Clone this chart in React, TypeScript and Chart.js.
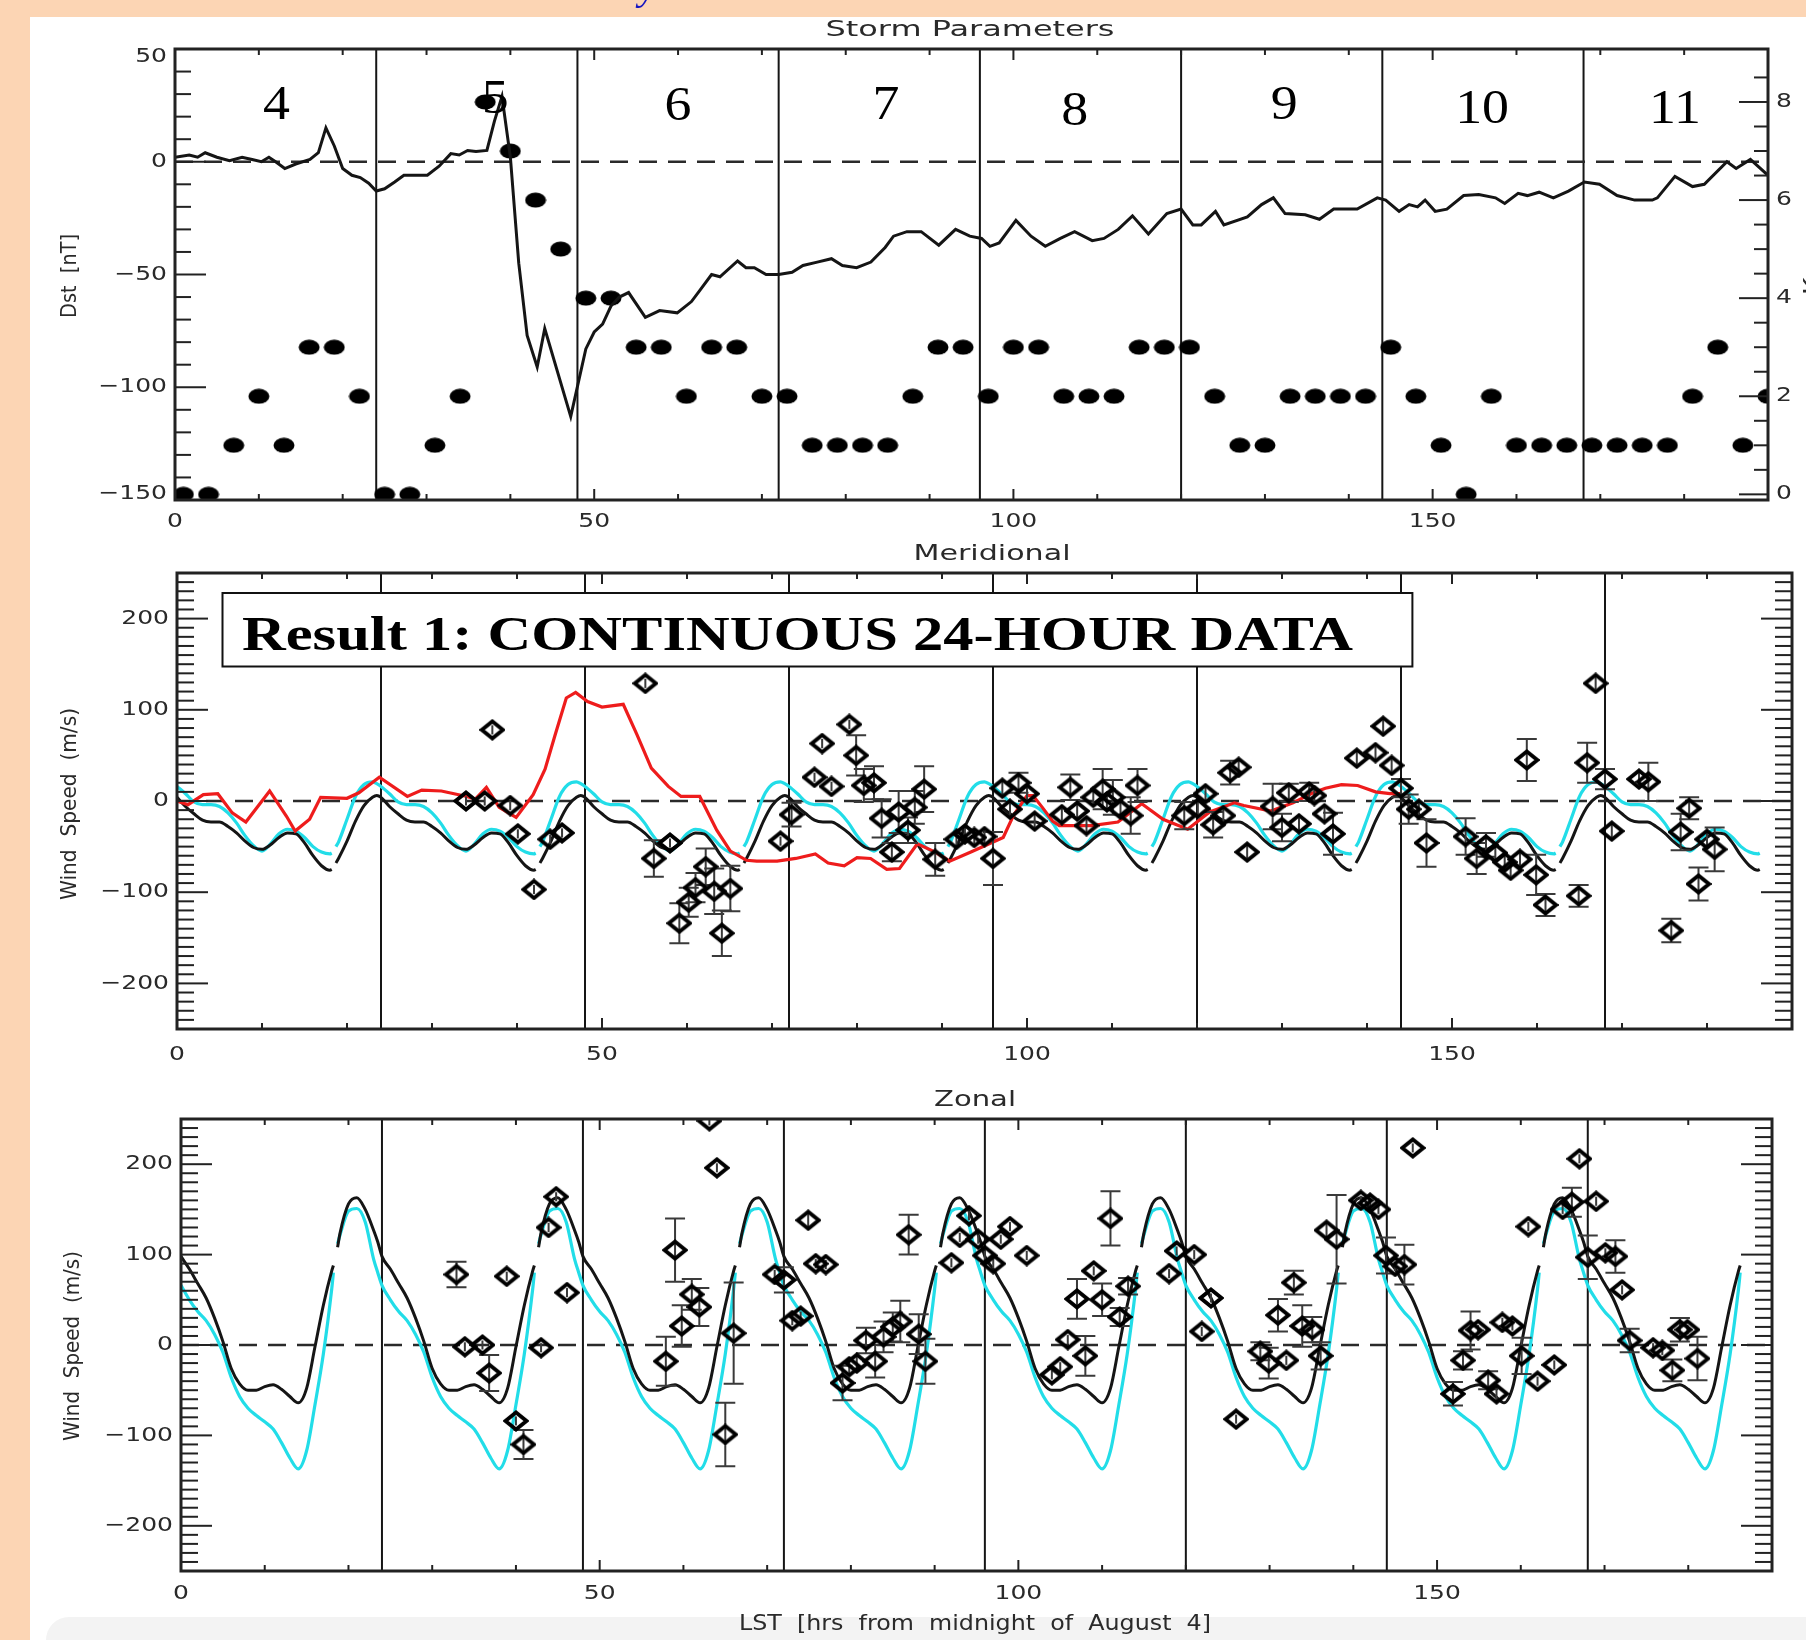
import React, { useEffect, useRef } from "react";
import { Chart, registerables } from "chart.js";

Chart.register(...registerables);

// ======================= DATA =======================
const xAxisRange = [0, 190];
const dayBoundaryHours = [24, 48, 72, 96, 120, 144, 168];
const xMajorTickHours = [0, 50, 100, 150];
const xMajorTickLabels = ["0", "50", "100", "150"];
const xMinorTickHours = [10, 20, 30, 40, 60, 70, 80, 90, 110, 120, 130, 140, 160, 170, 180];

// day-of-August annotations in the storm panel
const dayNumbers = ["4", "5", "6", "7", "8", "9", "10", "11"];
const dayNumberHour = [12.1, 38.2, 60.0, 84.8, 107.3, 132.3, 155.9, 178.9];
const dayNumberDst = [19.0, 21.4, 18.7, 19.0, 16.3, 19.1, 17.4, 17.4];

const dstRange = [-150, 50];
const dstMajorTicks = [50, 0, -50, -100, -150];
const dstMajorLabels = ["50", "0", "\u221250", "\u2212100", "\u2212150"];
const dstMinorTicks = [40, 30, 20, 10, -10, -20, -30, -40, -60, -70, -80, -90, -110, -120, -130, -140];
const kpRange = [-0.115, 9.08];
const kpMajorTicks = [0, 2, 4, 6, 8];
const kpMajorLabels = ["0", "2", "4", "6", "8"];
const kpMinorTicks = [0.5, 1, 1.5, 2.5, 3, 3.5, 4.5, 5, 5.5, 6.5, 7, 7.5, 8.5];
const windRange = [-250, 250];
const windMajorTicks = [200, 100, 0, -100, -200];
const windMajorLabels = ["200", "100", "0", "\u2212100", "\u2212200"];

// Dst index [nT]: [hour, value]
const dstSeries: [number, number][] = [
  [0, 2], [1.7, 3], [2.7, 2], [3.6, 4], [5, 2], [6.5, 0.5], [8, 2], [9.2, 1], [10.3, 0], [11.2, 2],
  [12, 0], [13.1, -3], [14.4, -1], [16.1, 1], [17.1, 4], [18.0, 15], [19.0, 7], [20.0, -3], [21.1, -6],
  [22.1, -7], [23.1, -9.5], [24.0, -13], [25, -12], [26.2, -9], [27.3, -6], [28.5, -6], [30.1, -6],
  [31.5, -2], [32.9, 3.6], [33.9, 3], [34.9, 5], [35.9, 4.5], [37.2, 5], [38.1, 18], [39.0, 29],
  [40.0, 2], [41.0, -45], [42.0, -77], [43.2, -91], [44.1, -74], [47.2, -113], [49.0, -83], [50.0, -75.5],
  [51.0, -72], [52.0, -64], [53.0, -60], [54.1, -58], [56.1, -69], [57.8, -66], [59.9, -67], [61.6, -62],
  [62.6, -57], [64.0, -50], [65.0, -51], [67.1, -44], [68.1, -47], [69.1, -47], [70.5, -50], [72, -50],
  [73.6, -49], [74.9, -46], [76.6, -44.5], [78.3, -43], [79.6, -46], [81.3, -47], [83, -44.5], [84.7, -38],
  [85.7, -33], [87.3, -31], [89, -31], [91.1, -37], [93.1, -30], [94.8, -33], [96.2, -34], [97.2, -37.5],
  [98.3, -36], [100.3, -26], [102.1, -33], [103.8, -37.5], [105.6, -34], [107.3, -31], [109.4, -35],
  [110.8, -34], [112.5, -30], [114.2, -24], [116.1, -32], [118.3, -23], [120, -21], [121.4, -28],
  [122.4, -28], [124.1, -22], [125.1, -28], [127.9, -24.5], [129.6, -19], [131, -16], [132.4, -23],
  [134.8, -23.5], [136.5, -25.5], [138.2, -21], [141, -21], [143.4, -16], [144.4, -17], [146, -22],
  [147.2, -19], [148.2, -20], [149.1, -17], [150.3, -22], [151.7, -21], [153.7, -15], [155.5, -14.5],
  [157.5, -16], [158.6, -18.5], [160.2, -14], [161.3, -15], [162.7, -13.5], [164.4, -16], [166.2, -13],
  [168.1, -9], [169.9, -10], [172, -15], [174.1, -17], [176.2, -17], [176.8, -16], [178.9, -6.5],
  [181, -11], [182.4, -10], [185.1, 0], [186.2, -3], [187.9, 1], [190, -6],
];

// Kp index (3-hourly)
const kpHours = [1, 4, 7, 10, 13, 16, 19, 22, 25, 28, 31, 34, 37, 40, 43, 46, 49, 52, 55, 58, 61, 64, 67, 70,
  73, 76, 79, 82, 85, 88, 91, 94, 97, 100, 103, 106, 109, 112, 115, 118, 121, 124, 127, 130, 133, 136, 139,
  142, 145, 148, 151, 154, 157, 160, 163, 166, 169, 172, 175, 178, 181, 184, 187, 190];
const kpValues = [0, 0, 1, 2, 1, 3, 3, 2, 0, 0, 1, 2, 8, 7, 6, 5, 4, 4, 3, 3, 2, 3, 3, 2,
  2, 1, 1, 1, 1, 2, 3, 3, 2, 3, 3, 2, 2, 2, 3, 3, 3, 2, 1, 1, 2, 2, 2,
  2, 3, 2, 1, 0, 2, 1, 1, 1, 1, 1, 1, 1, 2, 3, 1, 2];

// Daily model wind profiles (same every day), by local hour; the curve breaks after MODEL_BREAK_HOUR
const modelHours = [0, 1, 2, 3, 4, 5, 6, 7, 8, 9, 10, 11, 12, 13, 14, 15, 16, 17, 18, 18.2, 18.7, 19, 20, 21, 22, 23, 23.5];
const MODEL_BREAK_HOUR = 18.2;
const meridModelBlack = [4, -6, -14, -21, -23, -23, -28, -35, -44, -51, -53, -48, -40, -35, -36, -46, -60, -71, -76, -75, -68, -63, -44, -22, -5, 4, 6];
const meridModelCyan = [16, 8, -1, -4, -4, -6, -13, -24, -38, -49, -55, -47, -36, -31, -33, -40, -50, -56, -58, -57, -50, -45, -20, 5, 18, 21, 19];
const zonalModelBlack = [98, 84, 68, 52, 30, 4, -26, -43, -50, -50, -46, -44, -49, -57, -64, -48, -2, 44, 82, 88, 108, 124, 156, 163, 150, 127, 114];
const zonalModelCyan = [66, 50, 37, 27, 12, -8, -36, -57, -70, -78, -85, -93, -108, -125, -137, -117, -66, -10, 62, 80, 112, 122, 148, 151, 136, 95, 80];

// red meridional curve: [hour, m/s]
const redSeries: [number, number][] = [
  [0, 0], [1.3, -4], [3.1, 7], [4.8, 8], [6.5, -13], [8.1, -23], [10.9, 11], [12.9, -17], [13.9, -33],
  [15.6, -20], [16.9, 4], [20.0, 3], [21.4, 9], [23.8, 26], [27.1, 5], [28.8, 12], [31.1, 11], [34.1, 5],
  [35.1, 2], [36.4, 15], [37.9, -7], [39.9, -18], [41.9, 7], [43.3, 35], [44.5, 73], [45.8, 113],
  [46.9, 119], [48.3, 109], [50.0, 103], [52.5, 106], [54.1, 73], [55.8, 36], [57.8, 16], [59.3, 5],
  [61.5, 5], [63.5, -32], [65.1, -55], [67.0, -65], [68.2, -66], [70.6, -66], [72.8, -63], [75.1, -58],
  [76.6, -68], [78.5, -71], [80.0, -62], [81.6, -63], [83.5, -75], [85.0, -74], [87.1, -47], [89.2, -56],
  [90.9, -66], [93.4, -56], [97.2, -40], [98.4, -16], [100.0, 6], [100.7, 6], [101.8, -7], [103.0, -22],
  [103.8, -27], [107.6, -27], [110.7, -23], [113.5, -3], [116.0, -20], [118.9, -31], [121.5, -12],
  [124.4, -2], [125.5, -5], [128.7, -11], [131.3, -2], [133.4, 8], [135.1, 14], [137.0, 18], [138.9, 17],
  [141.0, 10], [142.7, 8], [143.9, 8],
];

// observed meridional wind: [hour, m/s, error]
const meridionalObs: [number, number, number][] = [
  [34.0, 0, 5], [36.2, 0, 5], [37.1, 78, 5], [39.2, -5, 5], [40.1, -36, 5], [42.0, -97, 5], [43.9, -42, 5],
  [45.3, -35, 5], [55.1, 129, 5], [56.1, -63, 20], [58.0, -46, 5], [59.1, -134, 22], [60.2, -111, 16],
  [61.0, -95, 16], [62.2, -72, 20], [63.2, -99, 25], [64.1, -145, 25], [65.1, -96, 25], [71.0, -44, 5],
  [72.3, -15, 13], [75.0, 26, 5], [75.9, 63, 5], [77.0, 16, 5], [79.1, 84, 5], [79.9, 50, 22], [80.8, 17, 18],
  [82.0, 20, 18], [82.9, -19, 21], [84.1, -56, 10], [84.9, -12, 23], [86.0, -32, 14], [86.8, -7, 18],
  [87.9, 13, 25], [89.2, -64, 18], [91.7, -42, 7], [92.7, -36, 7], [93.8, -40, 7], [95.0, -39, 7],
  [96.0, -63, 29], [97.1, 14, 7], [98.0, -9, 7], [99.0, 20, 11], [100.0, 8, 7], [100.9, -22, 7],
  [104.1, -15, 7], [105.1, 15, 14], [105.9, -11, 7], [107.0, -27, 7], [107.8, 4, 7], [108.9, 13, 22],
  [109.4, -1, 7], [110.1, 4, 19], [111.0, -9, 7], [112.2, -16, 20], [113.0, 17, 18], [118.5, -16, 15],
  [120.1, -8, 7], [121.0, 8, 7], [121.9, -26, 14], [123.1, -16, 7], [123.9, 31, 13], [124.9, 37, 7],
  [125.9, -56, 7], [128.9, -6, 25], [130.0, -29, 15], [130.8, 9, 10], [132.0, -25, 7], [133.2, 10, 10],
  [133.8, 6, 7], [135.0, -14, 7], [136.0, -36, 23], [138.8, 47, 7], [141.0, 53, 7], [141.9, 82, 7],
  [142.9, 39, 7], [144.0, 14, 10], [144.9, -9, 16], [146.1, -9, 7], [147.0, -46, 26], [151.6, -39, 20],
  [152.9, -63, 17], [154.0, -48, 13], [155.1, -57, 7], [156.2, -67, 7], [156.9, -76, 7], [158.0, -64, 7],
  [158.8, 45, 23], [159.9, -81, 22], [161.0, -114, 12], [164.9, -104, 12], [165.9, 42, 22], [166.9, 129, 7],
  [168.0, 24, 11], [168.8, -33, 7], [172.0, 24, 7], [173.1, 21, 21], [175.8, -142, 13], [176.9, -34, 20],
  [177.9, -8, 12], [179.0, -91, 18], [180.0, -42, 7], [180.9, -53, 24],
];

// observed zonal wind: [hour, m/s, error]
const zonalObs: [number, number, number][] = [
  [32.9, 78, 14], [33.9, -2, 5], [36.0, 0, 5], [36.8, -31, 20], [38.9, 76, 5], [40.0, -84, 5],
  [40.9, -110, 16], [43.0, -3, 5], [43.9, 130, 5], [44.8, 164, 5], [46.1, 58, 5], [57.9, -18, 27],
  [59.0, 105, 35], [59.8, 21, 23], [61.0, 56, 17], [61.9, 42, 21], [63.1, 248, 5], [64.0, 196, 5],
  [65.0, -99, 35], [66.0, 13, 56], [70.9, 78, 5], [72.0, 72, 14], [73.0, 27, 5], [74.0, 32, 5],
  [74.9, 138, 8], [75.8, 90, 5], [77.0, 89, 5], [79.0, -42, 19], [79.8, -24, 7], [80.7, -20, 7],
  [81.8, 5, 14], [82.9, -18, 18], [83.9, 9, 17], [85.0, 20, 16], [85.9, 26, 23], [86.9, 122, 22],
  [88.1, 12, 22], [88.9, -18, 25], [92.0, 91, 5], [93.0, 119, 5], [94.1, 143, 5], [95.2, 117, 5],
  [96.0, 99, 5], [97.0, 90, 5], [97.9, 117, 5], [99.0, 131, 5], [101.0, 99, 5], [104.0, -33, 5],
  [105.0, -24, 5], [105.9, 6, 5], [107.0, 51, 22], [108.0, -12, 22], [109.0, 82, 5], [110.0, 50, 18],
  [111.0, 140, 30], [112.1, 31, 10], [113.1, 65, 9], [118.0, 79, 5], [118.9, 104, 5], [121.0, 100, 5],
  [121.9, 15, 5], [123.0, 52, 5], [126.0, -82, 5], [128.9, -7, 10], [129.9, -20, 17], [131.0, 33, 18],
  [132.0, -17, 5], [132.9, 69, 13], [133.9, 21, 23], [135.1, 17, 14], [136.1, -12, 15], [136.8, 127, 8],
  [138.0, 117, 49], [140.9, 160, 5], [142.0, 157, 5], [143.0, 150, 5], [143.9, 99, 20], [145.0, 87, 5],
  [146.1, 89, 22], [147.1, 218, 5], [151.9, -54, 13], [153.1, -17, 10], [154.0, 16, 21], [154.9, 17, 5],
  [156.1, -39, 10], [157.1, -54, 8], [157.8, 25, 5], [159.0, 21, 5], [160.1, -12, 20], [160.9, 131, 5],
  [162.0, -40, 5], [164.0, -22, 5], [165.0, 150, 5], [166.1, 158, 16], [167.0, 206, 5], [168.0, 97, 24],
  [169.0, 159, 5], [170.1, 102, 5], [171.3, 98, 18], [172.1, 61, 5], [173.0, 5, 13], [175.8, -3, 5],
  [176.9, -6, 5], [178.1, -28, 12], [179.0, 17, 13], [179.9, 17, 5], [181.1, -15, 24],
];

// ======================= STYLE / LAYOUT =======================
const PAGE_W = 1806;
const PAGE_H = 1640;
const PEACH = "#FCD5B4";
const INK = "#151515";
const FRAME = "#222222";
const CYAN = "#22DDE8";
const RED = "#EE1C1C";
const TICK_FONT = '20px "DejaVu Sans"';
const TICK_SX = 1.25;
const TEXT_COLOR = "#2a2a2a";
const TITLE_FONT = '22px "DejaVu Sans"';

type Area = { left: number; right: number; top: number; bottom: number };
const topPanel = { top: 0, height: 540, area: { left: 175, right: 1768, top: 49, bottom: 500 } };
const midPanel = { top: 540, height: 540, area: { left: 177, right: 1792, top: 573, bottom: 1029 } };
const botPanel = { top: 1080, height: 560, area: { left: 181, right: 1772, top: 1119, bottom: 1571 } };

function paddingFor(p: { top: number; height: number; area: Area }) {
  return {
    left: p.area.left,
    right: PAGE_W - p.area.right,
    top: p.area.top - p.top,
    bottom: p.top + p.height - p.area.bottom,
  };
}

type TextSpec = {
  s: string; x: number; y: number; font: string; width?: number; sx?: number; rotate?: number;
  align?: CanvasTextAlign; baseline?: CanvasTextBaseline; color?: string;
};

function drawText(ctx: CanvasRenderingContext2D, t: TextSpec, offY: number) {
  ctx.save();
  ctx.font = t.font;
  ctx.fillStyle = t.color || TEXT_COLOR;
  ctx.textAlign = t.align || "center";
  ctx.textBaseline = t.baseline || "middle";
  ctx.translate(t.x, t.y - offY);
  if (t.rotate) ctx.rotate(t.rotate);
  let sx = t.sx || 1;
  if (t.width) sx = t.width / ctx.measureText(t.s).width;
  ctx.scale(sx, 1);
  ctx.fillText(t.s, 0, 0);
  ctx.restore();
}

type YAxisSpec = {
  id: string; side: "left" | "right"; majors: number[]; minors: number[]; labels: string[] | null;
  majorLen: number; minorLen: number;
};

type PanelSpec = {
  offY: number; xLabelGap: number; yAxes: YAxisSpec[]; texts: TextSpec[];
  banner?: boolean; dayNums?: boolean;
};

function panelPlugin(spec: PanelSpec) {
  return {
    id: "panelDecor",
    beforeDatasetsDraw(chart: any) {
      const { ctx, chartArea: a, scales } = chart;
      ctx.save();
      ctx.strokeStyle = INK;
      ctx.lineWidth = 2;
      dayBoundaryHours.forEach((h) => {
        const x = scales.x.getPixelForValue(h);
        ctx.beginPath();
        ctx.moveTo(x, a.top);
        ctx.lineTo(x, a.bottom);
        ctx.stroke();
      });
      ctx.restore();
    },
    beforeDatasetDraw(chart: any, args: any) {
      const ds = chart.data.datasets[args.index];
      if (!ds.errorBars) return;
      const { ctx, chartArea: a, scales } = chart;
      const ys = scales[ds.yAxisID];
      ctx.save();
      ctx.beginPath();
      ctx.rect(a.left, a.top, a.right - a.left, a.bottom - a.top);
      ctx.clip();
      ctx.strokeStyle = "#3a3a3a";
      ctx.lineWidth = 2;
      ds.errorBars.forEach((p: [number, number, number]) => {
        const x = scales.x.getPixelForValue(p[0]);
        const y1 = ys.getPixelForValue(p[1] - p[2]);
        const y2 = ys.getPixelForValue(p[1] + p[2]);
        ctx.beginPath();
        ctx.moveTo(x, y1);
        ctx.lineTo(x, y2);
        if (p[2] >= 9) {
          ctx.moveTo(x - 10, y1);
          ctx.lineTo(x + 10, y1);
          ctx.moveTo(x - 10, y2);
          ctx.lineTo(x + 10, y2);
        }
        ctx.stroke();
      });
      ctx.restore();
    },
    afterDraw(chart: any) {
      const { ctx, chartArea: a, scales } = chart;
      ctx.save();
      ctx.strokeStyle = FRAME;
      ctx.lineWidth = 2;
      const seg = (x1: number, y1: number, x2: number, y2: number) => {
        ctx.beginPath();
        ctx.moveTo(x1, y1);
        ctx.lineTo(x2, y2);
        ctx.stroke();
      };
      xMajorTickHours.forEach((h) => {
        const x = scales.x.getPixelForValue(h);
        seg(x, a.bottom, x, a.bottom - 11);
        seg(x, a.top, x, a.top + 11);
      });
      xMinorTickHours.forEach((h) => {
        const x = scales.x.getPixelForValue(h);
        seg(x, a.bottom, x, a.bottom - 6);
        seg(x, a.top, x, a.top + 6);
      });
      spec.yAxes.forEach((ax) => {
        const s = scales[ax.id];
        const x0 = ax.side === "left" ? a.left : a.right;
        const dir = ax.side === "left" ? 1 : -1;
        ax.majors.forEach((v) => {
          const y = s.getPixelForValue(v);
          seg(x0, y, x0 + dir * ax.majorLen, y);
        });
        ax.minors.forEach((v) => {
          const y = s.getPixelForValue(v);
          seg(x0, y, x0 + dir * ax.minorLen, y);
        });
        if (ax.labels) {
          ax.majors.forEach((v, i) => {
            let y = s.getPixelForValue(v);
            y = Math.min(Math.max(y, a.top + 8), a.bottom - 6);
            drawText(ctx, {
              s: ax.labels![i], x: ax.side === "left" ? a.left - 8 : a.right + 8, y,
              font: TICK_FONT, sx: TICK_SX, align: ax.side === "left" ? "right" : "left",
            }, 0);
          });
        }
      });
      ctx.lineWidth = 3;
      ctx.strokeRect(a.left, a.top, a.right - a.left, a.bottom - a.top);
      ctx.restore();
      xMajorTickHours.forEach((h, i) => {
        drawText(ctx, {
          s: xMajorTickLabels[i], x: scales.x.getPixelForValue(h), y: a.bottom + spec.xLabelGap,
          font: TICK_FONT, sx: TICK_SX,
        }, 0);
      });
      if (spec.dayNums) {
        dayNumbers.forEach((d, i) => {
          drawText(ctx, {
            s: d, x: scales.x.getPixelForValue(dayNumberHour[i]), y: scales.y.getPixelForValue(dayNumberDst[i]),
            font: '49px "Liberation Serif"', sx: 1.1, baseline: "alphabetic", color: "#000",
          }, 0);
        });
      }
      if (spec.banner) {
        const bx = 222.5, by = 593 - spec.offY, bw = 1412.4 - 222.5, bh = 666.5 - 593;
        ctx.save();
        ctx.fillStyle = "#fff";
        ctx.fillRect(bx, by, bw, bh);
        ctx.strokeStyle = "#111";
        ctx.lineWidth = 2;
        ctx.strokeRect(bx, by, bw, bh);
        ctx.restore();
        drawText(ctx, {
          s: "Result 1: CONTINUOUS 24-HOUR DATA", x: 242, y: 649.5, font: 'bold 49px "Liberation Serif"',
          width: 1111, align: "left", baseline: "alphabetic", color: "#000",
        }, spec.offY);
      }
      spec.texts.forEach((t) => drawText(ctx, t, spec.offY));
    },
  };
}

function makeImages() {
  const diamond = document.createElement("canvas");
  diamond.width = 26;
  diamond.height = 22;
  const d = diamond.getContext("2d")!;
  d.strokeStyle = "#000";
  d.lineWidth = 3.8;
  d.lineJoin = "miter";
  d.beginPath();
  d.moveTo(13, 2.5);
  d.lineTo(23.5, 11);
  d.lineTo(13, 19.5);
  d.lineTo(2.5, 11);
  d.closePath();
  d.stroke();

  const dot = document.createElement("canvas");
  dot.width = 22;
  dot.height = 16;
  const e = dot.getContext("2d")!;
  e.fillStyle = "#000";
  e.beginPath();
  e.ellipse(11, 8, 10.5, 7.5, 0, 0, Math.PI * 2);
  e.fill();
  return { diamond, dot };
}

function buildModel(values: number[]) {
  const pts: { x: number; y: number | null }[] = [];
  for (let d = 0; d < 8; d++) {
    if (d > 0) {
      modelHours.forEach((h, i) => {
        if (h > MODEL_BREAK_HOUR) pts.push({ x: 24 * (d - 1) + h, y: values[i] });
      });
    }
    modelHours.forEach((h, i) => {
      if (h <= MODEL_BREAK_HOUR) pts.push({ x: 24 * d + h, y: values[i] });
    });
    pts.push({ x: 24 * d + MODEL_BREAK_HOUR + 0.25, y: null });
  }
  return pts;
}

function baseOptions(padding: any, yScales: any) {
  return {
    animation: false,
    responsive: false,
    maintainAspectRatio: false,
    events: [],
    layout: { padding },
    plugins: { legend: { display: false }, tooltip: { enabled: false }, title: { display: false } },
    scales: {
      x: { type: "linear", min: xAxisRange[0], max: xAxisRange[1], display: false },
      ...yScales,
    },
  };
}

const zeroLine = (yAxisID: string, order: number) => ({
  data: [{ x: xAxisRange[0], y: 0 }, { x: xAxisRange[1], y: 0 }],
  yAxisID, borderColor: "#2a2a2a", borderWidth: 2.5, borderDash: [18, 11], pointRadius: 0, order, clip: 0,
});

export default function App() {
  const topRef = useRef<HTMLCanvasElement>(null);
  const midRef = useRef<HTMLCanvasElement>(null);
  const botRef = useRef<HTMLCanvasElement>(null);

  useEffect(() => {
    const { diamond, dot } = makeImages();

    const topPlugin = panelPlugin({
      offY: topPanel.top, xLabelGap: 22, dayNums: true,
      yAxes: [
        { id: "y", side: "left", majors: dstMajorTicks, minors: dstMinorTicks, labels: dstMajorLabels, majorLen: 31, minorLen: 16 },
        { id: "kp", side: "right", majors: kpMajorTicks, minors: kpMinorTicks, labels: kpMajorLabels, majorLen: 29, minorLen: 14 },
      ],
      texts: [
        { s: "Storm Parameters", x: 970, y: 30, font: TITLE_FONT, width: 289 },
        { s: "Dst  [nT]", x: 70, y: 276, font: TITLE_FONT, width: 84, rotate: -Math.PI / 2 },
        { s: "Kp", x: 1813, y: 278, font: TITLE_FONT, sx: 1.2, rotate: -Math.PI / 2 },
        { s: "y", x: 648, y: -1, font: 'italic 40px "Liberation Serif"', baseline: "alphabetic", color: "#1414c0" },
      ],
    });
    const top = new Chart(topRef.current as HTMLCanvasElement, {
      type: "line",
      data: {
        datasets: [
          zeroLine("y", 5) as any,
          {
            data: kpHours.map((h, i) => ({ x: h, y: kpValues[i] })), yAxisID: "kp", showLine: false,
            pointStyle: dot, pointRadius: 9, order: 2, clip: 0,
          } as any,
          {
            data: dstSeries.map(([h, v]) => ({ x: h, y: v })), yAxisID: "y", borderColor: INK, borderWidth: 3,
            pointRadius: 0, tension: 0, order: 0, clip: 0,
          } as any,
        ],
      },
      options: baseOptions(paddingFor(topPanel), {
        y: { type: "linear", min: dstRange[0], max: dstRange[1], display: false },
        kp: { type: "linear", min: kpRange[0], max: kpRange[1], display: false, position: "right" },
      }) as any,
      plugins: [topPlugin],
    });

    const windAxes = (labels: string[]) => {
      const minors: number[] = [];
      for (let v = -250; v <= 250; v += 10) if (v % 100 !== 0) minors.push(v);
      return [
        { id: "y", side: "left" as const, majors: windMajorTicks, minors, labels, majorLen: 31, minorLen: 17 },
        { id: "y", side: "right" as const, majors: windMajorTicks, minors, labels: null, majorLen: 31, minorLen: 17 },
      ];
    };

    const midPlugin = panelPlugin({
      offY: midPanel.top, xLabelGap: 26, banner: true,
      yAxes: windAxes(windMajorLabels),
      texts: [
        { s: "Meridional", x: 992, y: 554, font: TITLE_FONT, width: 157 },
        { s: "Wind  Speed  (m/s)", x: 70, y: 804, font: TITLE_FONT, width: 192, rotate: -Math.PI / 2 },
      ],
    });
    const mid = new Chart(midRef.current as HTMLCanvasElement, {
      type: "line",
      data: {
        datasets: [
          zeroLine("y", 6) as any,
          { data: buildModel(meridModelCyan), yAxisID: "y", borderColor: CYAN, borderWidth: 3.2, pointRadius: 0,
            cubicInterpolationMode: "monotone", spanGaps: false, order: 4, clip: 0 } as any,
          { data: buildModel(meridModelBlack), yAxisID: "y", borderColor: INK, borderWidth: 3, pointRadius: 0,
            cubicInterpolationMode: "monotone", spanGaps: false, order: 3, clip: 0 } as any,
          { data: redSeries.map(([h, v]) => ({ x: h, y: v })), yAxisID: "y", borderColor: RED, borderWidth: 3.2,
            pointRadius: 0, tension: 0, order: 2, clip: 0 } as any,
          { data: meridionalObs.map(([h, v]) => ({ x: h, y: v })), errorBars: meridionalObs, yAxisID: "y",
            showLine: false, pointStyle: diamond, pointRadius: 10, order: 0, clip: 0 } as any,
        ],
      },
      options: baseOptions(paddingFor(midPanel), {
        y: { type: "linear", min: windRange[0], max: windRange[1], display: false },
      }) as any,
      plugins: [midPlugin],
    });

    const botPlugin = panelPlugin({
      offY: botPanel.top, xLabelGap: 23,
      yAxes: windAxes(windMajorLabels),
      texts: [
        { s: "Zonal", x: 975, y: 1100, font: TITLE_FONT, width: 82 },
        { s: "Wind  Speed  (m/s)", x: 73, y: 1346, font: TITLE_FONT, width: 190, rotate: -Math.PI / 2 },
        { s: "LST  [hrs  from  midnight  of  August  4]", x: 975, y: 1624, font: TITLE_FONT, width: 472 },
      ],
    });
    const bot = new Chart(botRef.current as HTMLCanvasElement, {
      type: "line",
      data: {
        datasets: [
          zeroLine("y", 6) as any,
          { data: buildModel(zonalModelCyan), yAxisID: "y", borderColor: CYAN, borderWidth: 3.2, pointRadius: 0,
            cubicInterpolationMode: "monotone", spanGaps: false, order: 3, clip: 0 } as any,
          { data: buildModel(zonalModelBlack), yAxisID: "y", borderColor: INK, borderWidth: 3, pointRadius: 0,
            cubicInterpolationMode: "monotone", spanGaps: false, order: 2, clip: 0 } as any,
          { data: zonalObs.map(([h, v]) => ({ x: h, y: v })), errorBars: zonalObs, yAxisID: "y",
            showLine: false, pointStyle: diamond, pointRadius: 10, order: 0, clip: 0 } as any,
        ],
      },
      options: baseOptions(paddingFor(botPanel), {
        y: { type: "linear", min: windRange[0], max: windRange[1], display: false },
      }) as any,
      plugins: [botPlugin],
    });

    return () => {
      top.destroy();
      mid.destroy();
      bot.destroy();
    };
  }, []);

  const canvasStyle = (p: { top: number; height: number }): React.CSSProperties => ({
    position: "absolute", left: 0, top: p.top, width: PAGE_W, height: p.height, display: "block",
  });

  return (
    <div style={{ position: "fixed", left: 0, top: 0, width: PAGE_W, height: PAGE_H, background: PEACH, overflow: "hidden" }}>
      <div style={{ position: "absolute", left: 30, top: 17, right: 0, bottom: 0, background: "#ffffff" }} />
      <div style={{ position: "absolute", left: 46, top: 1617, right: 0, bottom: 0, background: "#f3f3f3", borderTopLeftRadius: 24 }} />
      <canvas ref={topRef} width={PAGE_W} height={topPanel.height} style={canvasStyle(topPanel)} />
      <canvas ref={midRef} width={PAGE_W} height={midPanel.height} style={canvasStyle(midPanel)} />
      <canvas ref={botRef} width={PAGE_W} height={botPanel.height} style={canvasStyle(botPanel)} />
    </div>
  );
}
